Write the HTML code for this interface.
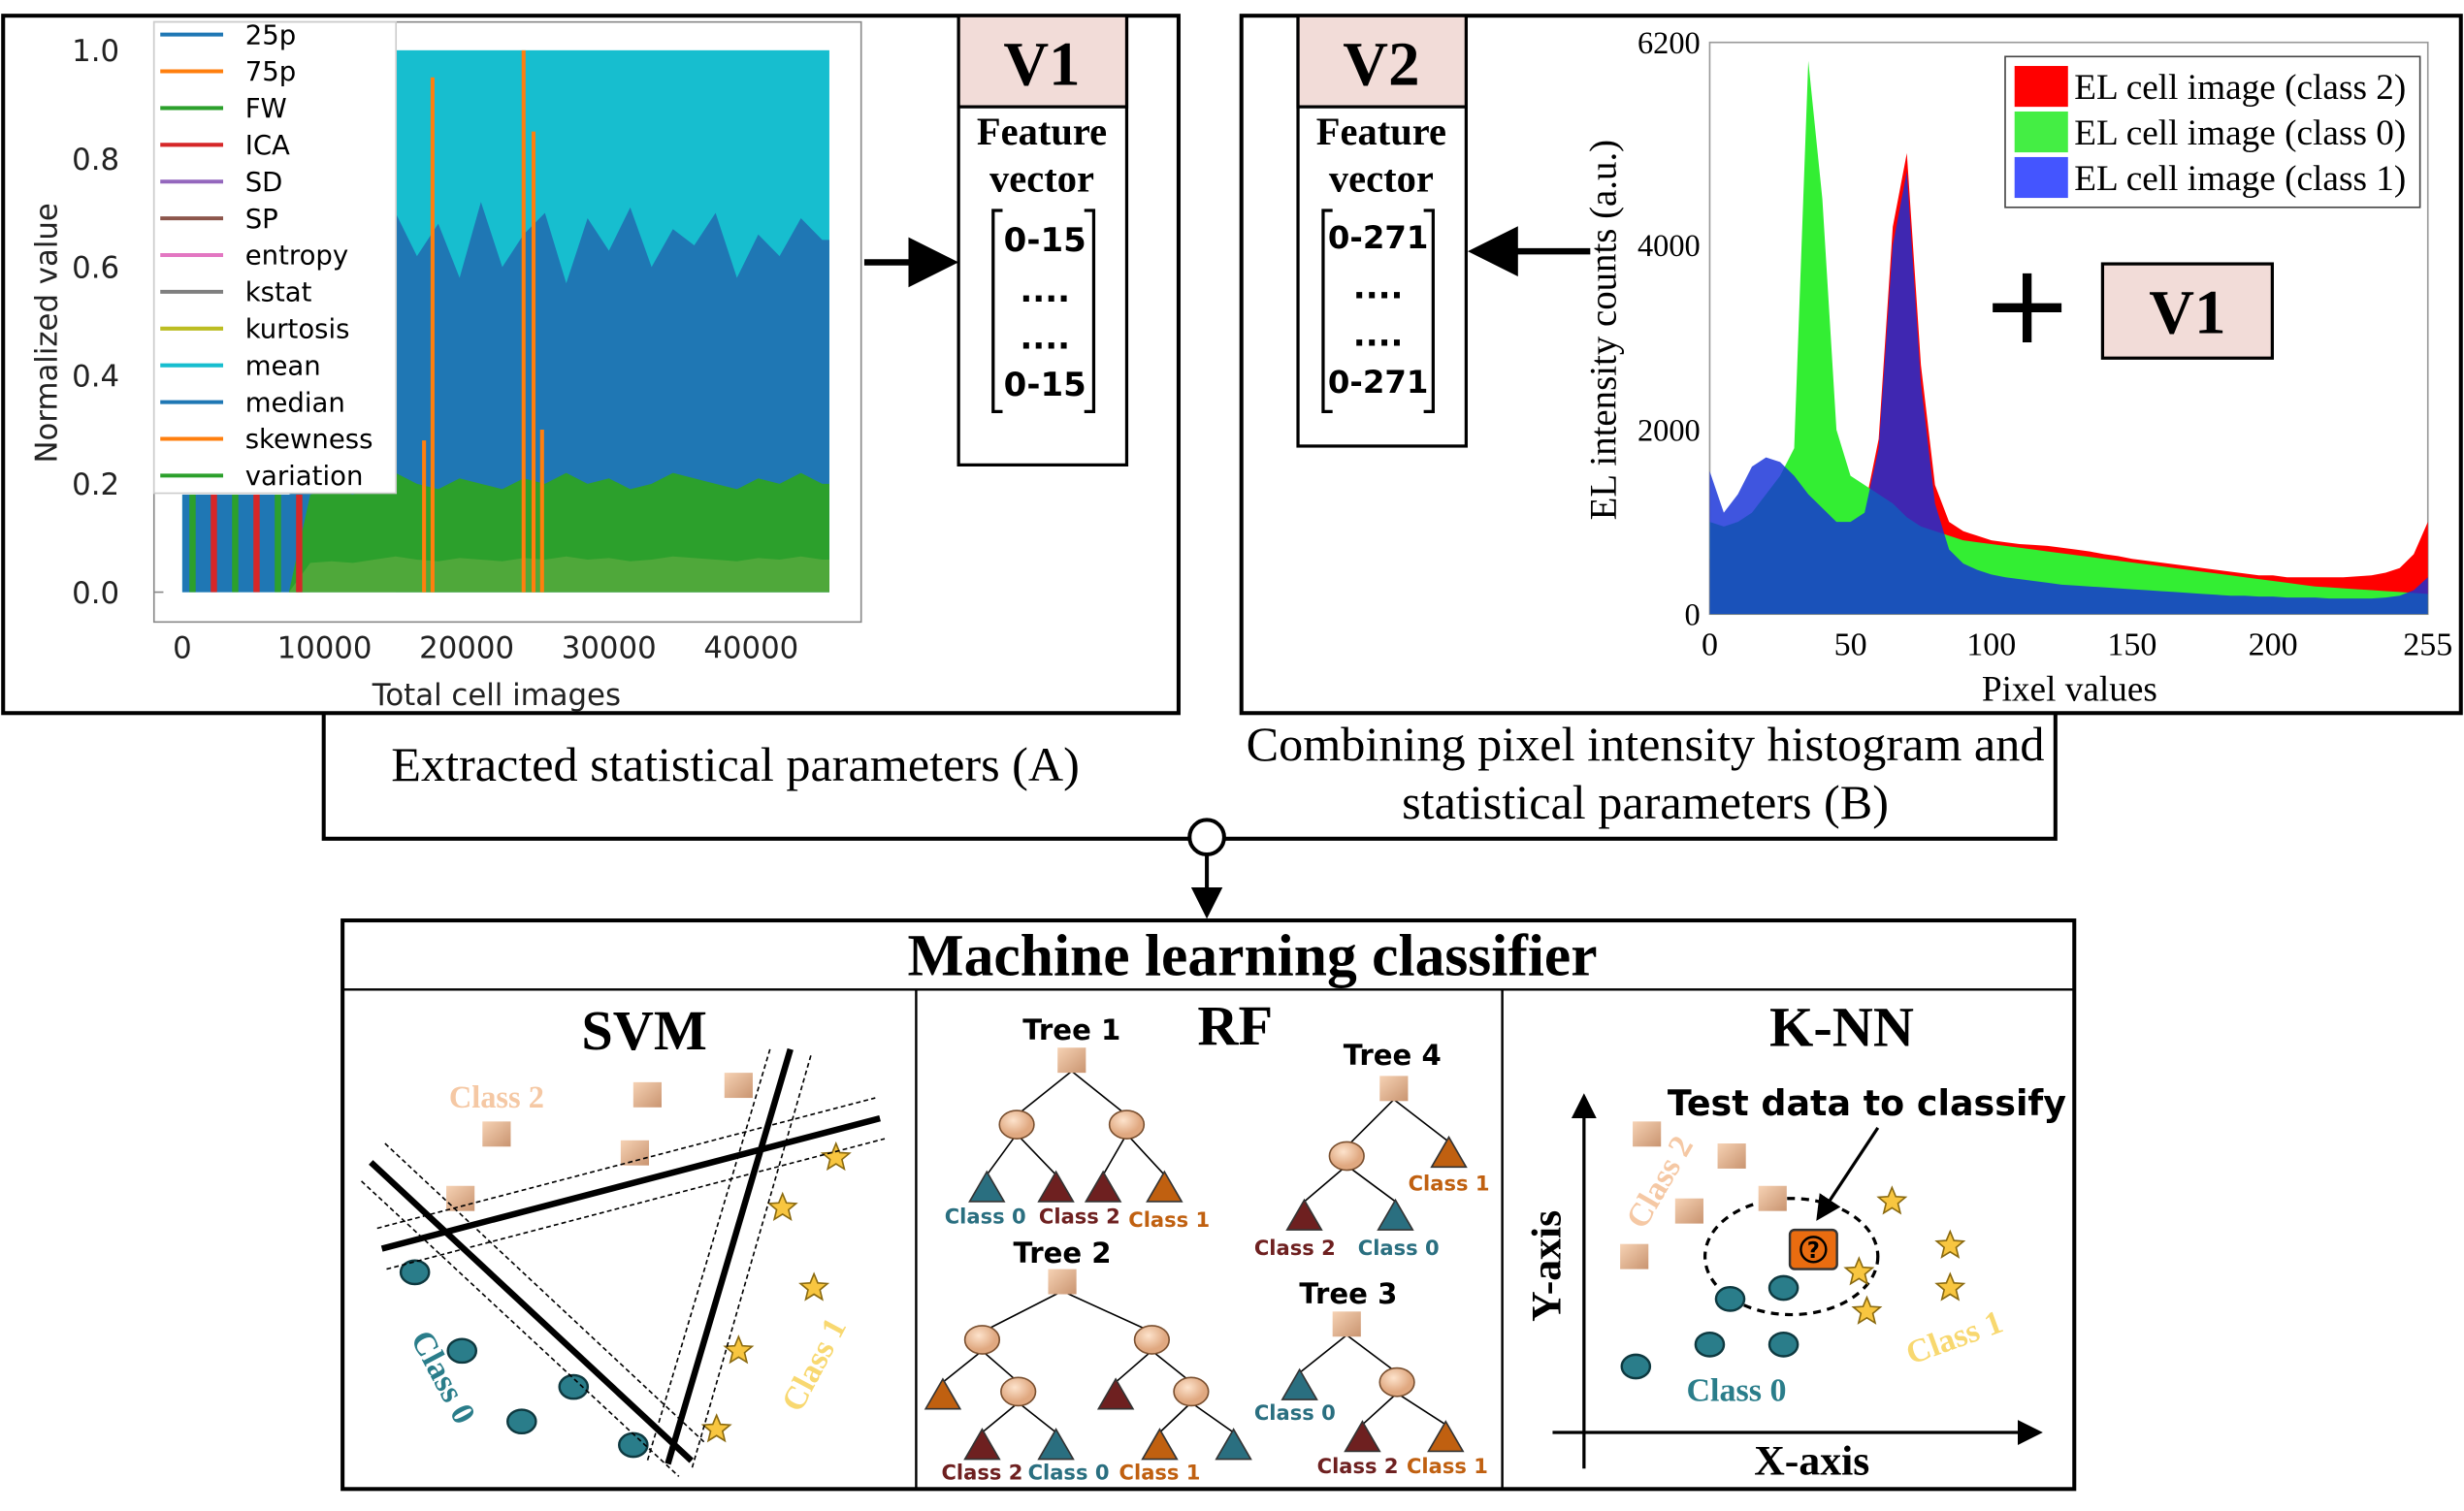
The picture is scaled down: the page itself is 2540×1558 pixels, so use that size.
<!DOCTYPE html>
<html><head><meta charset="utf-8"><style>
html,body{margin:0;padding:0;background:#fff}
svg{display:block}
.serif{font-family:"Liberation Serif",serif}
.sans{font-family:"DejaVu Sans","Liberation Sans",sans-serif}
</style></head><body>
<svg id="s" width="2540" height="1558" viewBox="0 0 1568 962" preserveAspectRatio="none" xmlns="http://www.w3.org/2000/svg">
<defs>
<linearGradient id="sq" x1="0" y1="0" x2="1" y2="1"><stop offset="0" stop-color="#f6d2b4"/><stop offset="1" stop-color="#c99470"/></linearGradient>
<radialGradient id="ci" cx="0.4" cy="0.35"><stop offset="0" stop-color="#fde3cc"/><stop offset="1" stop-color="#e0a880"/></radialGradient>
<marker id="ar" markerWidth="8" markerHeight="8" refX="6" refY="4" orient="auto"><path d="M0,0 L8,4 L0,8 z" fill="#000"/></marker>
</defs>
<rect x="2" y="10" width="748" height="444" fill="none" stroke="#000" stroke-width="2.5"/>
<g id="chartA"></g>
<g>
<rect x="610" y="10" width="107" height="286" fill="#fff" stroke="#000" stroke-width="2"/>
<rect x="610" y="10" width="107" height="58" fill="#f2dcd8" stroke="#000" stroke-width="2"/>
<text x="663" y="54" class="serif" font-size="40" font-weight="bold" text-anchor="middle">V1</text>
<text x="663" y="92" class="serif" font-size="25" font-weight="bold" text-anchor="middle">Feature</text>
<text x="663" y="122" class="serif" font-size="25" font-weight="bold" text-anchor="middle">vector</text>
<path d="M638,134 h-6 v128 h6 M690,134 h6 v128 h-6" fill="none" stroke="#000" stroke-width="2"/>
<text x="665" y="160" class="sans" font-size="21" font-weight="bold" text-anchor="middle">0-15</text>
<text x="665" y="192" class="sans" font-size="21" font-weight="bold" text-anchor="middle">....</text>
<text x="665" y="222" class="sans" font-size="21" font-weight="bold" text-anchor="middle">....</text>
<text x="665" y="252" class="sans" font-size="21" font-weight="bold" text-anchor="middle">0-15</text>
</g>
<line x1="550" y1="167" x2="602" y2="167" stroke="#000" stroke-width="4" marker-end="url(#ar)"/>
<rect x="790" y="10" width="776" height="444" fill="none" stroke="#000" stroke-width="2.5"/>
<g>
<rect x="826" y="10" width="107" height="274" fill="#fff" stroke="#000" stroke-width="2"/>
<rect x="826" y="10" width="107" height="58" fill="#f2dcd8" stroke="#000" stroke-width="2"/>
<text x="879" y="54" class="serif" font-size="40" font-weight="bold" text-anchor="middle">V2</text>
<text x="879" y="92" class="serif" font-size="25" font-weight="bold" text-anchor="middle">Feature</text>
<text x="879" y="122" class="serif" font-size="25" font-weight="bold" text-anchor="middle">vector</text>
<path d="M848,134 h-6 v128 h6 M906,134 h6 v128 h-6" fill="none" stroke="#000" stroke-width="2"/>
<text x="877" y="158" class="sans" font-size="20" font-weight="bold" text-anchor="middle">0-271</text>
<text x="877" y="190" class="sans" font-size="21" font-weight="bold" text-anchor="middle">....</text>
<text x="877" y="220" class="sans" font-size="21" font-weight="bold" text-anchor="middle">....</text>
<text x="877" y="250" class="sans" font-size="20" font-weight="bold" text-anchor="middle">0-271</text>
</g>
<line x1="1012" y1="160" x2="942" y2="160" stroke="#000" stroke-width="4" marker-end="url(#ar)"/>
<g id="chartB"></g>
<text x="1290" y="218" class="sans" font-size="70" text-anchor="middle">+</text>
<g>
<rect x="1338" y="168" width="108" height="60" fill="#f2dcd8" stroke="#000" stroke-width="2"/>
<text x="1392" y="212" class="serif" font-size="40" font-weight="bold" text-anchor="middle">V1</text>
</g>
<text x="468" y="497" class="serif" font-size="31" text-anchor="middle">Extracted statistical parameters (A)</text>
<text x="1047" y="484" class="serif" font-size="31" text-anchor="middle">Combining pixel intensity histogram and</text>
<text x="1047" y="521" class="serif" font-size="31" text-anchor="middle">statistical parameters (B)</text>
<path d="M206,454 V534 H1308 V454" fill="none" stroke="#000" stroke-width="2.5"/>
<line x1="768" y1="544" x2="768" y2="580" stroke="#000" stroke-width="2.5" marker-end="url(#ar)"/>
<circle cx="768" cy="533" r="11" fill="#fff" stroke="#000" stroke-width="2.5"/>
<rect x="218" y="586" width="1102" height="362" fill="none" stroke="#000" stroke-width="2.5"/>
<line x1="218" y1="630" x2="1320" y2="630" stroke="#000" stroke-width="1.5"/>
<line x1="583" y1="630" x2="583" y2="948" stroke="#000" stroke-width="1.5"/>
<line x1="956" y1="630" x2="956" y2="948" stroke="#000" stroke-width="1.5"/>
<text x="797" y="621" class="serif" font-size="38" font-weight="bold" text-anchor="middle">Machine learning classifier</text>
<text x="410" y="668" class="serif" font-size="36" font-weight="bold" text-anchor="middle">SVM</text>
<text x="786" y="665" class="serif" font-size="36" font-weight="bold" text-anchor="middle">RF</text>
<text x="1172" y="666" class="serif" font-size="36" font-weight="bold" text-anchor="middle">K-NN</text>
<g id="diag"></g>
</svg>
<script>
const NS="http://www.w3.org/2000/svg";
function mk(p,tag,a){const e=document.createElementNS(NS,tag);for(const k in a)e.setAttribute(k,a[k]);p.appendChild(e);return e;}
const aStepX=[0,1500,3000,4500,6000,7500,9000,10500,12000,13500,15000,16500,18000,19500,21000,22500,24000,25500,27000,28500,30000,31500,33000,34500,36000,37500,39000,40500,42000,43500,45000];
const aBlue=[0.18,0.18,0.18,0.18,0.18,0.18,0.2,0.2,0.2,0.2,0.7,0.62,0.68,0.58,0.72,0.6,0.66,0.7,0.57,0.69,0.63,0.71,0.6,0.67,0.64,0.7,0.58,0.66,0.62,0.69,0.65];
const aGreen=[0.15,0.17,0.12,0.16,0.18,0.14,0.18,0.19,0.18,0.2,0.22,0.2,0.19,0.21,0.2,0.19,0.21,0.2,0.22,0.2,0.21,0.19,0.2,0.22,0.21,0.2,0.19,0.21,0.2,0.22,0.2];
const aSpikeX=[17000,17600,24000,24700,25300];
const aSpikeV=[0.28,0.95,1.0,0.85,0.3];
const aYTicks=[0,0.2,0.4,0.6,0.8,1.0];
const aXTicks=[0,10000,20000,30000,40000];
const aLegend=["25p","75p","FW","ICA","SD","SP","entropy","kstat","kurtosis","mean","median","skewness","variation"];
const aLegendColors=["#1f77b4","#ff7f0e","#2ca02c","#d62728","#9467bd","#8c564b","#e377c2","#7f7f7f","#bcbd22","#17becf","#1f77b4","#ff7f0e","#2ca02c"];
const ax=v=>116+v*0.00905, ay=v=>377-345*v;
const gA=document.getElementById('chartA');
mk(gA,'rect',{x:98,y:14,width:450,height:382,fill:'#fff',stroke:'#888','stroke-width':1});
let c1=mk(gA,'rect',{x:ax(0),y:ay(0.18),width:ax(9000)-ax(0),height:ay(0)-ay(0.18),fill:'#17becf'});

let c2=mk(gA,'rect',{x:ax(15000),y:ay(1),width:ax(45500)-ax(15000),height:ay(0)-ay(1),fill:'#17becf'});

function area(vals,color,name){let d='M'+ax(aStepX[0])+','+ay(0);for(let i=0;i<vals.length;i++){d+=' L'+ax(aStepX[i])+','+ay(vals[i]);}d+=' L'+ax(45500)+','+ay(vals[vals.length-1])+' L'+ax(45500)+','+ay(0)+'Z';const p=mk(gA,'path',{d:d,fill:color});}
area(aBlue,'#1f77b4','median-series');
area(aGreen.map((v,i)=>aStepX[i]<9000?0:v),'#2ca02c','variation-series');
area(aGreen.map((v,i)=>aStepX[i]<9000?0:v*0.3),'#4fa83a','fw-series');
// early mixed stripes
[0,1500,3000,4500,6000,7500].forEach((x,i)=>{const r=mk(gA,'rect',{x:ax(x+500),y:ay(0.18),width:4,height:ay(0)-ay(0.18),fill:i%2?'#d62728':'#2ca02c'});});
for(let i=0;i<aSpikeX.length;i++){const l=mk(gA,'line',{x1:ax(aSpikeX[i]),x2:ax(aSpikeX[i]),y1:ay(0),y2:ay(aSpikeV[i]),stroke:'#ff7f0e','stroke-width':2.5});}
aYTicks.forEach(v=>{const t=mk(gA,'text',{x:76,y:ay(v)+7,'font-size':19,'text-anchor':'end',class:'sans',fill:'#222'});t.textContent=v.toFixed(1);mk(gA,'line',{x1:98,x2:104,y1:ay(v),y2:ay(v),stroke:'#888'});});
aXTicks.forEach(v=>{const t=mk(gA,'text',{x:ax(v),y:419,'font-size':19,'text-anchor':'middle',class:'sans',fill:'#222'});t.textContent=v;});
let yt=mk(gA,'text',{x:36,y:212,'font-size':19,'text-anchor':'middle',class:'sans',transform:'rotate(-90 36 212)',fill:'#222'});yt.textContent='Normalized value';
let xt=mk(gA,'text',{x:316,y:449,'font-size':19,'text-anchor':'middle',class:'sans',fill:'#222'});xt.textContent='Total cell images';
mk(gA,'rect',{x:98,y:14,width:154,height:300,fill:'#fff',stroke:'#ccc'});
aLegend.forEach((n,i)=>{const y=22+i*23.4;mk(gA,'line',{x1:102,x2:142,y1:y,y2:y,stroke:aLegendColors[i],'stroke-width':2.5});const t=mk(gA,'text',{x:156,y:y+6,'font-size':17,class:'sans'});t.textContent=n;});
const bGreen=[1000,950,1000,1100,1300,1500,1800,6000,4500,2000,1500,1400,1300,1200,1050,950,900,850,800,780,760,740,720,700,680,660,640,620,600,580,560,540,520,500,480,460,440,420,400,380,360,340,320,300,290,280,270,260,250,240,230,220];
const bBlue=[1550,1100,1300,1600,1700,1650,1500,1300,1150,1000,1000,1100,1800,4000,4800,2500,1200,700,550,480,430,400,380,360,340,320,310,300,290,280,270,260,250,240,230,220,210,200,200,190,190,180,180,180,170,170,170,170,180,200,260,400];
const bRed=[600,600,700,900,1000,1000,900,900,1000,1000,1000,1150,1900,4200,5000,2700,1400,1000,900,850,800,780,760,750,740,720,700,680,650,630,600,580,560,540,520,500,480,460,440,420,420,400,400,400,400,400,410,420,450,500,650,1000];
const bYTicks=[0,2000,4000,6200];
const bXTicks=[0,50,100,150,200,255];
const bx=v=>1088+v*457/255, by=v=>391-v*364/6200;
const gB=document.getElementById('chartB');
mk(gB,'rect',{x:1088,y:27,width:457,height:364,fill:'#fff',stroke:'#999'});
function hist(vals,color,op,name){let d='M'+bx(0)+','+by(0);vals.forEach((v,i)=>{d+=' L'+bx(Math.min(255,i*5))+','+by(v);});d+=' L'+bx(255)+','+by(0)+'Z';const p=mk(gB,'path',{d:d,fill:color,'fill-opacity':op});}
hist(bRed,'#ff0000',1,'hist-class-2');
hist(bGreen,'#33ee33',1,'hist-class-0');
hist(bBlue,'#1530d8',0.82,'hist-class-1');
bYTicks.forEach(v=>{const t=mk(gB,'text',{x:1082,y:by(v)+7,'font-size':20,'text-anchor':'end',class:'serif'});t.textContent=v;});
bXTicks.forEach(v=>{const t=mk(gB,'text',{x:bx(v),y:417,'font-size':21,'text-anchor':'middle',class:'serif'});t.textContent=v;});
let by2=mk(gB,'text',{x:1028,y:210,'font-size':24,'text-anchor':'middle',class:'serif',transform:'rotate(-90 1028 210)'});by2.textContent='EL intensity counts (a.u.)';
let bx2=mk(gB,'text',{x:1317,y:446,'font-size':23,'text-anchor':'middle',class:'serif'});bx2.textContent='Pixel values';
mk(gB,'rect',{x:1276,y:36,width:264,height:96,fill:'#fff',stroke:'#444'});
[['EL cell image (class 2)','#ff0000'],['EL cell image (class 0)','#44ee44'],['EL cell image (class 1)','#4455ff']].forEach((e,i)=>{const y=42+i*29;mk(gB,'rect',{x:1282,y:y,width:34,height:26,fill:e[1]});const t=mk(gB,'text',{x:1320,y:y+21,'font-size':23,class:'serif'});t.textContent=e[0];});
const gD=document.getElementById('diag');
function sq(x,y){const r=mk(gD,'rect',{x:x-9,y:y-8,width:18,height:16,fill:'url(#sq)'});}
function circ(x,y){const c=mk(gD,'ellipse',{cx:x,cy:y,rx:9,ry:7.5,fill:'#2a7d8a',stroke:'#0e3940','stroke-width':1.5});}
function star(x,y){let d='';for(let i=0;i<10;i++){const r=i%2?4:9,a=-Math.PI/2+i*Math.PI/5;d+=(i?'L':'M')+(x+r*Math.cos(a)).toFixed(1)+','+(y+r*Math.sin(a)).toFixed(1);}const p=mk(gD,'path',{d:d+'Z',fill:'#f8c640',stroke:'#8a6a10','stroke-width':1});}
function txt(x,y,s,size,color,rot,fam,w){const t=mk(gD,'text',{x:x,y:y,'font-size':size,fill:color,'text-anchor':'middle',class:fam||'serif','font-weight':w||'bold'});if(rot)t.setAttribute('transform','rotate('+rot+' '+x+' '+y+')');t.textContent=s;return t;}
function ln(x1,y1,x2,y2,w,dash){mk(gD,'line',{x1,y1,x2,y2,stroke:'#000','stroke-width':w,'stroke-dasharray':dash||'none'});}
[[316,722],[412,697],[470,691],[404,734],[293,763]].forEach(p=>sq(...p));
[[264,810],[294,860],[365,883],[332,905],[403,920]].forEach(p=>circ(...p));
[[532,737],[498,769],[518,820],[470,860],[456,910]].forEach(p=>star(...p));
ln(236,740,440,930,4);ln(230,752,432,940,1,'3,2');ln(245,728,448,918,1,'3,2');
ln(243,795,560,712,4);ln(240,782,557,699,1,'3,2');ln(246,808,563,725,1,'3,2');
ln(503,668,425,932,4);ln(490,668,412,930,1,'3,2');ln(516,672,440,936,1,'3,2');
txt(316,705,'Class 2',20,'#f5c8a4');txt(276,880,'Class 0',21,'#2a7d8a',62);txt(524,872,'Class 1',21,'#f8d870',-62);
function tri(x,y,c){mk(gD,'path',{d:`M${x-11},${y+9} L${x},${y-10} L${x+11},${y+9}Z`,fill:c,stroke:'#333','stroke-width':1});}
function node(x,y){mk(gD,'ellipse',{cx:x,cy:y,rx:11,ry:9,fill:'url(#ci)',stroke:'#7a5030'});}
const T0='#2a6f80',T2='#6e2020',T1='#c06010';
function edges(list){list.forEach(e=>ln(e[0],e[1],e[2],e[3],1));}
edges([[682,682,647,710],[682,682,717,710],[647,722,628,748],[647,722,672,748],[717,722,702,748],[717,722,741,748]]);
sq(682,675);node(647,716);node(717,716);tri(628,756,T0);tri(672,756,T2);tri(702,756,T2);tri(741,756,T1);
txt(682,662,'Tree 1',18,'#000',0,'sans');txt(627,779,'Class 0',13,T0,0,'sans');txt(687,779,'Class 2',13,T2,0,'sans');txt(744,781,'Class 1',13,T1,0,'sans');
edges([[676,822,625,848],[676,822,733,848],[625,860,600,880],[625,860,648,880],[733,860,710,880],[733,860,758,880],[758,893,738,912],[758,893,785,912],[648,893,625,912],[648,893,672,912]]);
sq(676,816);node(625,853);node(733,853);tri(600,888,T1);node(648,886);tri(710,888,T2);node(758,886);tri(625,920,T2);tri(672,920,T0);tri(738,920,T1);tri(785,920,T0);
txt(676,804,'Tree 2',18,'#000',0,'sans');txt(625,942,'Class 2',13,T2,0,'sans');txt(680,942,'Class 0',13,T0,0,'sans');txt(738,942,'Class 1',13,T1,0,'sans');
edges([[887,700,857,730],[887,700,922,727]]);edges([[857,742,830,765],[857,742,888,765]]);
sq(887,693);node(857,736);tri(922,734,T1);tri(830,774,T2);tri(888,774,T0);
txt(886,678,'Tree 4',18,'#000',0,'sans');txt(922,758,'Class 1',13,T1,0,'sans');txt(824,799,'Class 2',13,T2,0,'sans');txt(890,799,'Class 0',13,T0,0,'sans');
edges([[857,850,827,874],[857,850,889,874],[889,887,867,907],[889,887,920,907]]);
sq(857,843);node(889,880);tri(827,882,T0);tri(867,915,T2);tri(920,915,T1);
txt(858,830,'Tree 3',18,'#000',0,'sans');txt(824,904,'Class 0',13,T0,0,'sans');txt(864,938,'Class 2',13,T2,0,'sans');txt(921,938,'Class 1',13,T1,0,'sans');
mk(gD,'line',{x1:1008,y1:935,x2:1008,y2:700,stroke:'#000','stroke-width':2,'marker-end':'url(#ar)'});
mk(gD,'line',{x1:988,y1:912,x2:1296,y2:912,stroke:'#000','stroke-width':2,'marker-end':'url(#ar)'});
txt(993,806,'Y-axis',27,'#000',-90);txt(1153,939,'X-axis',27,'#000');
txt(1188,710,'Test data to classify',22.5,'#000',0,'sans');
mk(gD,'line',{x1:1195,y1:718,x2:1158,y2:774,stroke:'#000','stroke-width':2,'marker-end':'url(#ar)'});
mk(gD,'ellipse',{cx:1140,cy:800,rx:55,ry:37,fill:'none',stroke:'#000','stroke-width':2,'stroke-dasharray':'5,4'});
[[1048,722],[1102,736],[1075,771],[1128,763],[1040,800]].forEach(p=>sq(...p));
[[1101,827],[1135,820],[1041,870],[1088,856],[1135,856]].forEach(p=>circ(...p));
[[1204,765],[1241,793],[1241,820],[1183,810],[1188,835]].forEach(p=>star(...p));
mk(gD,'rect',{x:1139,y:783,width:30,height:25,rx:3,fill:'#e96c10',stroke:'#333','stroke-width':1.5});
mk(gD,'circle',{cx:1154,cy:795.5,r:8,fill:'none',stroke:'#000','stroke-width':1.5});
txt(1154,801,'?',14,'#000',0,'sans');
txt(1062,756,'Class 2',21,'#f5c8a4',-60);txt(1105,892,'Class 0',21,'#2a7d8a');txt(1246,858,'Class 1',21,'#f8d870',-20);
</script>
</body></html>
